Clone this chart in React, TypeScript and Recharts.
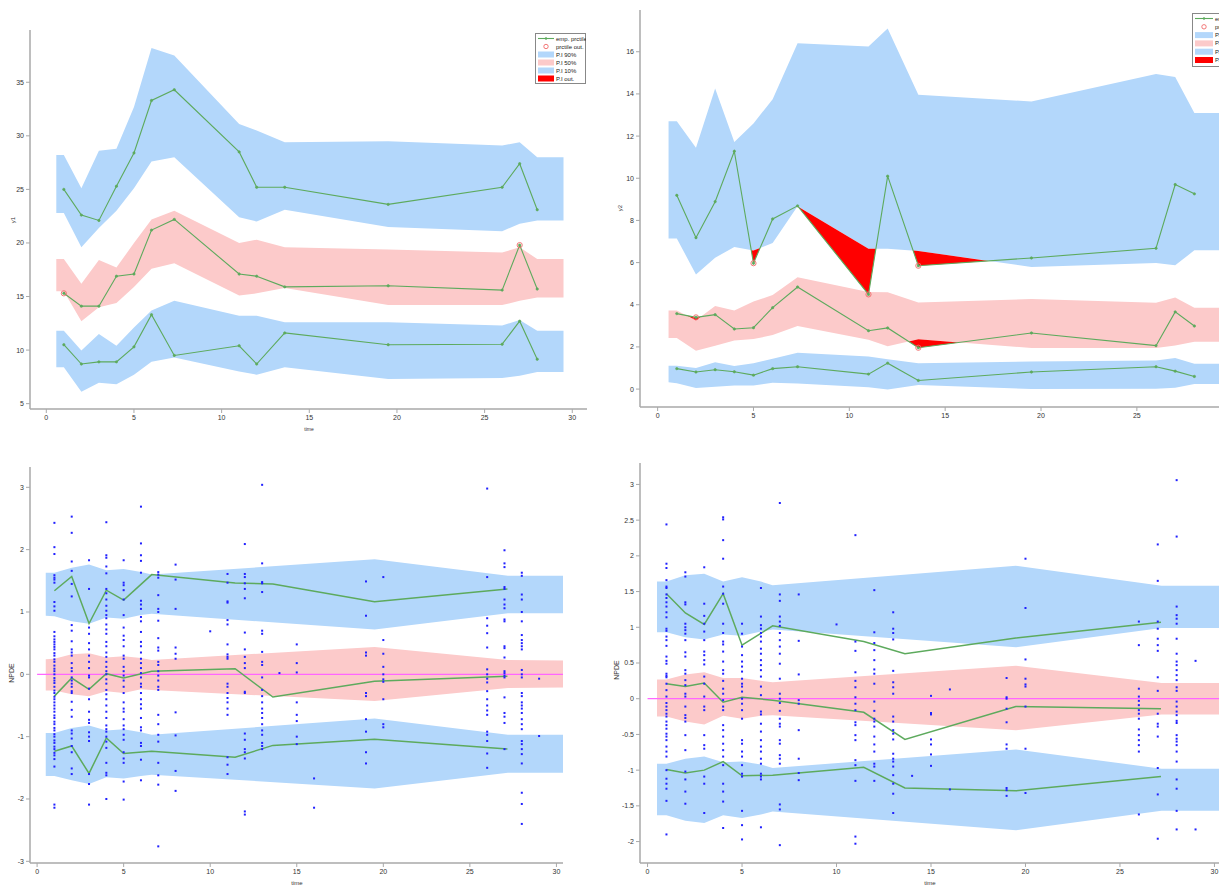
import React from 'react';
import { ComposedChart, Area, Line, Scatter, XAxis, YAxis } from 'recharts';

const GREEN = '#5daa5d';
const BLUE_BAND = '#b3d7fb';
const PINK_BAND = '#fccaca';
const RED = '#ff0000';
const DOT_BLUE = '#2020ff';
const MAGENTA = '#ff66ff';
const AXIS = '#a9a9a9';
const FONT = 'Liberation Sans, Arial, sans-serif';

// ---------------- top-left (y1) ----------------
const tlBandT = [0.57, 1, 2, 3, 4, 5, 6, 7.3, 11, 12, 13.6, 19.5, 26, 27, 28, 29.5];
const tlHiTop = [28.2, 28.2, 25.1, 28.6, 28.8, 32.7, 38.2, 37.5, 31.1, 30.5, 29.4, 29.5, 29.1, 29.4, 28.0, 28.0];
const tlHiBot = [22.8, 22.8, 19.6, 21.4, 23.0, 25.1, 27.6, 28.0, 22.4, 22.0, 23.1, 21.5, 21.1, 21.8, 22.1, 22.1];
const tlMidTop = [18.5, 18.5, 16.2, 18.4, 17.7, 20.0, 22.2, 23.0, 20.0, 20.3, 19.6, 19.4, 19.1, 19.6, 18.5, 18.5];
const tlMidBot = [15.5, 15.5, 12.7, 14.0, 14.4, 15.9, 17.6, 18.1, 15.1, 15.3, 15.8, 14.2, 14.2, 14.6, 14.9, 14.9];
const tlLoTop = [11.8, 11.8, 9.97, 11.5, 10.4, 12.1, 13.7, 14.6, 13.2, 13.2, 12.6, 12.6, 12.3, 12.8, 11.8, 11.8];
const tlLoBot = [8.4, 8.4, 6.1, 6.96, 6.8, 7.7, 8.9, 9.3, 8.0, 7.7, 8.4, 7.3, 7.4, 7.6, 7.95, 7.95];
const tlBins = [1, 2, 3, 4, 5, 6, 7.3, 11, 12, 13.6, 19.5, 26, 27, 28];
const tlEmpHi = [25.0, 22.6, 22.1, 25.3, 28.4, 33.3, 34.3, 28.5, 25.2, 25.2, 23.6, 25.2, 27.4, 23.1];
const tlEmpMid = [15.3, 14.1, 14.1, 16.9, 17.1, 21.2, 22.2, 17.1, 16.9, 15.9, 16.0, 15.6, 19.8, 15.7];
const tlEmpLo = [10.5, 8.7, 8.9, 8.9, 10.3, 13.3, 9.5, 10.4, 8.7, 11.6, 10.5, 10.55, 12.7, 9.15];
const tlYTicks = [5, 10, 15, 20, 25, 30, 35];

// ---------------- top-right (y2) ----------------
const trBandT = [0.57, 1, 2, 3, 4, 5, 6, 7.3, 11, 12, 13.6, 19.5, 26, 27, 28, 29.5];
const trHiTop = [12.7, 12.7, 11.45, 14.26, 11.72, 12.6, 13.75, 16.4, 16.25, 17.1, 13.96, 13.64, 14.95, 14.8, 13.1, 13.1];
const trHiBot = [7.14, 7.14, 5.44, 6.23, 6.74, 6.57, 6.93, 8.67, 6.66, 6.66, 6.55, 5.79, 5.98, 5.87, 6.58, 6.58];
const trMidTop = [3.73, 3.73, 3.26, 3.94, 3.73, 4.15, 4.46, 5.3, 4.6, 4.59, 4.11, 4.27, 4.1, 4.34, 3.86, 3.86];
const trMidBot = [2.42, 2.42, 1.82, 2.06, 2.31, 2.37, 2.56, 2.99, 2.34, 2.03, 2.36, 1.95, 1.95, 2.07, 2.25, 2.25];
const trLoTop = [1.11, 1.11, 1.0, 1.27, 1.09, 1.23, 1.44, 1.72, 1.55, 1.42, 1.23, 1.31, 1.36, 1.47, 1.2, 1.2];
const trLoBot = [0.32, 0.28, 0.05, 0.11, 0.17, 0.17, 0.3, 0.27, 0.09, -0.02, 0.19, 0.0, 0.02, 0.06, 0.24, 0.24];
const trBins = [1, 2, 3, 4, 5, 6, 7.3, 11, 12, 13.6, 19.5, 26, 27, 28];
const trEmpHi = [9.19, 7.18, 8.89, 11.28, 5.97, 8.07, 8.69, 4.49, 10.1, 5.85, 6.22, 6.68, 9.7, 9.26];
const trEmpMid = [3.58, 3.4, 3.53, 2.85, 2.91, 3.86, 4.84, 2.77, 2.9, 1.96, 2.66, 2.06, 3.66, 2.99];
const trEmpLo = [0.97, 0.81, 0.92, 0.82, 0.66, 0.97, 1.06, 0.71, 1.23, 0.41, 0.81, 1.06, 0.85, 0.6];
const trYTicks = [0, 2, 4, 6, 8, 10, 12, 14, 16];

const topXTicks = [0, 5, 10, 15, 20, 25, 30];

// ---------------- NPDE panels ----------------
const npBandT = [0.5, 1, 2, 3, 4, 5, 6, 6.62, 19.5, 27.2, 30.4];
const npBins = [1, 2, 3, 4, 5, 6.62, 11.44, 13.62, 19.49, 27.17];

const blHiTop = [1.63, 1.63, 1.71, 1.76, 1.67, 1.69, 1.64, 1.60, 1.845, 1.58, 1.58];
const blHiBot = [0.94, 0.93, 0.85, 0.81, 0.91, 0.89, 0.95, 0.97, 0.72, 0.98, 0.98];
const blMidTop = [0.24, 0.25, 0.32, 0.34, 0.27, 0.29, 0.26, 0.23, 0.44, 0.23, 0.22];
const blMidBot = [-0.26, -0.26, -0.32, -0.35, -0.27, -0.30, -0.24, -0.25, -0.43, -0.22, -0.21];
const blLoTop = [-0.94, -0.94, -0.86, -0.82, -0.90, -0.88, -0.93, -0.97, -0.71, -0.97, -0.97];
const blLoBot = [-1.63, -1.63, -1.70, -1.76, -1.65, -1.67, -1.63, -1.61, -1.83, -1.58, -1.58];
const blEmpHi = [1.34, 1.57, 0.815, 1.35, 1.19, 1.60, 1.465, 1.45, 1.164, 1.37];
const blEmpMid = [-0.35, -0.06, -0.24, 0.01, -0.06, 0.05, 0.09, -0.365, -0.11, -0.03];
const blEmpLo = [-1.235, -1.15, -1.59, -1.02, -1.27, -1.235, -1.33, -1.14, -1.04, -1.20];

const brHiTop = [1.64, 1.64, 1.73, 1.75, 1.64, 1.70, 1.64, 1.59, 1.86, 1.58, 1.58];
const brHiBot = [0.93, 0.93, 0.86, 0.83, 0.90, 0.88, 0.94, 0.97, 0.72, 0.99, 0.99];
const brMidTop = [0.27, 0.27, 0.34, 0.37, 0.29, 0.29, 0.25, 0.23, 0.46, 0.22, 0.22];
const brMidBot = [-0.25, -0.25, -0.32, -0.36, -0.24, -0.28, -0.24, -0.23, -0.44, -0.22, -0.22];
const brLoTop = [-0.91, -0.91, -0.84, -0.81, -0.89, -0.88, -0.92, -0.97, -0.71, -0.98, -0.98];
const brLoBot = [-1.63, -1.63, -1.71, -1.74, -1.63, -1.67, -1.62, -1.58, -1.84, -1.57, -1.57];
const brEmpHi = [1.47, 1.20, 1.04, 1.47, 0.75, 1.02, 0.80, 0.63, 0.85, 1.07];
const brEmpMid = [0.21, 0.17, 0.22, -0.05, 0.02, -0.02, -0.19, -0.57, -0.11, -0.14];
const brEmpLo = [-0.99, -1.04, -1.0, -0.88, -1.08, -1.07, -0.96, -1.25, -1.29, -1.09];

const npXTicks = [0, 5, 10, 15, 20, 25, 30];
const blYTicks = [-3, -2, -1, 0, 1, 2, 3];
const brYTicks = [-2, -1.5, -1, -0.5, 0, 0.5, 1, 1.5, 2, 2.5, 3];
const zeroLineT = [0, 30.4];

const scatT = [1, 2, 3, 4, 5, 6, 7, 8, 10, 11, 12, 13, 14, 15, 16, 19, 20, 26, 27, 28, 29];
const blScatV = [
  [2.43, 2.04, 1.93, 1.59, 1.55, 1.52, 1.47, 1.16, 1.09, 1.02, 0.68, 0.61, 0.56, 0.52, 0.48, 0.44, 0.4, 0.34, 0.3, 0.24, 0.2, 0.14, 0.09, 0.05, 0.0, -0.06, -0.1, -0.14, -0.2, -0.26, -0.3, -0.36, -0.4, -0.45, -0.5, -0.55, -0.6, -0.66, -0.7, -0.76, -0.8, -0.86, -0.9, -0.96, -1.0, -1.06, -1.1, -1.16, -1.2, -1.26, -1.3, -1.36, -1.48, -2.09, -2.14],
  [2.53, 2.27, 1.81, 1.66, 1.45, 1.25, 0.79, 0.7, 0.53, 0.4, 0.35, 0.3, 0.18, 0.1, 0.05, -0.05, -0.1, -0.15, -0.2, -0.27, -0.3, -0.44, -0.57, -0.68, -0.9, -0.95, -1.03, -1.15, -1.25, -1.51, -1.6],
  [1.83, 1.37, 0.75, 0.65, 0.5, 0.4, 0.3, 0.2, 0.1, -0.02, -0.05, -0.23, -0.4, -0.6, -0.73, -0.78, -0.93, -1.0, -1.07, -1.6, -1.76, -2.09],
  [2.44, 1.91, 1.87, 1.73, 1.62, 1.37, 1.3, 1.2, 1.1, 1.02, 0.95, 0.9, 0.8, 0.72, 0.65, 0.52, 0.45, 0.35, 0.28, 0.2, 0.12, 0.05, 0.0, -0.08, -0.15, -0.25, -0.32, -0.4, -0.5, -0.6, -0.7, -0.82, -0.88, -0.92, -1.0, -1.08, -1.18, -1.42, -1.58, -1.62, -2.0],
  [1.83, 1.47, 1.43, 1.35, 1.2, 0.95, 0.75, 0.62, 0.55, 0.45, 0.3, 0.25, 0.12, 0.05, -0.02, -0.1, -0.2, -0.3, -0.45, -0.55, -0.6, -0.72, -0.82, -0.88, -0.97, -1.05, -1.25, -1.35, -1.42, -1.72, -2.01],
  [2.69, 2.1, 1.91, 1.82, 1.63, 1.18, 1.12, 1.05, 0.92, 0.85, 0.68, 0.52, 0.45, 0.35, 0.25, 0.18, 0.1, 0.02, -0.05, -0.15, -0.2, -0.3, -0.4, -0.48, -0.55, -0.7, -0.85, -0.9, -1.1, -1.15, -1.37, -1.7],
  [1.64, 1.6, 1.55, 1.27, 1.05, 1.0, 0.86, 0.58, 0.43, 0.38, 0.2, 0.15, 0.05, -0.02, -0.1, -0.2, -0.25, -0.65, -0.8, -0.97, -1.08, -1.42, -1.62, -1.77, -2.76],
  [1.76, 1.52, 1.05, 0.43, 0.33, 0.25, -0.61, -0.98, -1.55, -1.87],
  [0.69],
  [1.61, 1.47, 1.17, 1.15, 0.87, 0.8, 0.48, 0.32, 0.28, 0.25, -0.15, -0.2, -0.3, -0.38, -0.45, -0.55, -0.65, -1.33, -1.45, -1.6],
  [2.09, 1.61, 1.56, 1.46, 1.37, 1.22, 0.67, 0.4, 0.28, 0.18, 0.1, -0.28, -0.3, -0.95, -1.05, -1.2, -1.25, -1.35, -2.2, -2.25],
  [3.04, 1.78, 1.48, 1.46, 1.32, 0.7, 0.65, 0.36, 0.2, 0.15, -0.05, -0.25, -0.35, -0.45, -0.55, -0.62, -0.7, -0.8, -0.9, -0.97, -1.1, -1.15, -1.2],
  [0.02],
  [0.48, 0.18, 0.03, -0.45, -0.65, -0.75, -1.0, -1.12],
  [-1.67, -2.14],
  [1.49, 0.94, 0.35, 0.3, -0.3, -0.35, -0.72, -0.92, -1.25, -1.43],
  [1.56, 0.55, 0.33, 0.12, 0.0, -0.08, -0.12, -0.4, -0.8, -0.85],
  [2.98, 1.56, 0.9, 0.78, 0.66, 0.43, 0.08, 0.0, -0.07, -0.13, -0.27, -0.4, -0.5, -0.58, -0.65, -0.92, -0.97, -1.07, -1.27, -1.5],
  [1.99, 1.78, 1.72, 1.4, 1.37, 1.2, 1.12, 1.06, 0.88, 0.85, 0.45, 0.42, 0.27, 0.05, 0.02, -0.02, -0.05, -0.37, -0.62, -0.68, -0.78, -1.2],
  [1.63, 1.58, 1.28, 1.2, 1.0, 0.85, 0.63, 0.55, 0.5, 0.45, 0.4, 0.07, 0.0, -0.05, -0.3, -0.35, -0.45, -0.5, -0.55, -0.62, -0.72, -0.8, -0.88, -1.07, -1.12, -1.2, -1.28, -1.43, -1.9, -2.08, -2.4],
  [-0.07, -0.99],
];
const brScatV = [
  [2.44, 1.89, 1.83, 1.66, 1.57, 1.55, 1.46, 1.41, 1.35, 1.29, 1.21, 1.14, 0.98, 0.95, 0.87, 0.82, 0.74, 0.59, 0.53, 0.49, 0.35, 0.32, 0.3, 0.21, 0.12, 0.03, -0.06, -0.11, -0.16, -0.21, -0.25, -0.32, -0.37, -0.42, -0.49, -0.53, -0.58, -0.67, -0.74, -0.81, -1.0, -1.12, -1.19, -1.26, -1.43, -1.9],
  [1.77, 1.71, 1.35, 1.32, 1.05, 1.0, 0.96, 0.91, 0.82, 0.65, 0.59, 0.4, 0.35, 0.26, 0.19, 0.07, 0.03, -0.11, -0.23, -0.27, -0.32, -0.51, -0.72, -1.02, -1.13, -1.3, -1.47],
  [1.84, 1.33, 1.16, 1.05, 0.94, 0.82, 0.66, 0.61, 0.54, 0.48, 0.31, 0.21, 0.03, -0.11, -0.16, -0.51, -0.65, -0.7, -1.09, -1.19, -1.6],
  [2.54, 2.51, 2.22, 1.96, 1.57, 1.47, 1.33, 1.05, 0.92, 0.8, 0.76, 0.66, 0.52, 0.4, 0.35, 0.25, 0.14, 0.07, -0.02, -0.11, -0.16, -0.37, -0.44, -0.53, -0.63, -0.72, -0.81, -0.93, -1.19, -1.3, -1.44, -1.81],
  [1.05, 0.91, 0.73, 0.61, 0.52, 0.45, 0.38, 0.28, 0.21, 0.17, 0.1, 0.0, -0.07, -0.16, -0.28, -0.58, -0.63, -0.74, -0.81, -0.93, -1.05, -1.09, -1.57, -1.77, -1.97],
  [1.55, 1.15, 1.03, 0.98, 0.92, 0.87, 0.8, 0.7, 0.63, 0.54, 0.47, 0.4, 0.31, 0.17, 0.05, -0.18, -0.22, -0.35, -0.46, -0.58, -0.67, -0.74, -0.84, -0.91, -1.05, -1.09, -1.13, -1.8],
  [2.74, 1.46, 1.37, 1.15, 1.08, 1.02, 0.92, 0.82, 0.73, 0.63, 0.49, 0.28, 0.07, 0.0, -0.06, -0.17, -0.28, -0.35, -0.39, -0.58, -0.63, -0.79, -0.84, -0.91, -1.48, -1.55, -2.05],
  [1.46, 0.81, 0.34, -0.02, -0.07, -0.44, -0.84, -1.04, -1.14],
  [1.04],
  [2.29, 0.8, 0.67, 0.37, 0.25, 0.16, 0.02, -0.07, -0.16, -0.33, -0.37, -0.51, -0.58, -0.86, -0.93, -1.15, -1.93, -2.03],
  [1.52, 0.93, 0.78, 0.68, 0.54, 0.41, 0.35, 0.21, -0.04, -0.17, -0.28, -0.32, -0.39, -0.53, -0.64, -0.74, -0.91, -0.95, -1.15],
  [1.21, 0.98, 0.92, 0.83, 0.39, 0.23, 0.16, 0.07, -0.25, -0.32, -0.44, -0.49, -0.57, -0.77, -0.84, -0.88, -0.95, -1.07, -1.19, -1.33, -1.6],
  [-1.08],
  [0.04, -0.2, -0.22, -0.57, -0.64, -0.78, -0.94],
  [0.13, -1.27],
  [0.29, 0.02, 0.0, -0.14, -0.33, -0.64, -0.7, -1.25, -1.28, -1.36],
  [1.96, 1.27, 0.55, 0.28, 0.2, 0.17, -0.11, -0.7, -1.32],
  [1.08, 0.75, 0.14, 0.03, -0.03, -0.09, -0.16, -0.21, -0.28, -0.43, -0.51, -0.58, -0.65, -0.74, -1.62],
  [2.16, 1.65, 1.08, 0.98, 0.84, 0.75, 0.67, 0.3, 0.11, -0.21, -0.35, -0.39, -0.53, -0.97, -1.34, -1.96],
  [3.06, 2.27, 1.29, 1.17, 1.12, 1.05, 0.84, 0.63, 0.52, 0.47, 0.4, 0.33, 0.26, 0.16, 0.11, -0.04, -0.11, -0.18, -0.23, -0.31, -0.34, -0.51, -0.56, -0.6, -0.65, -0.74, -0.88, -1.13, -1.26, -1.57, -1.83],
  [0.53, -1.83],
];

// ---------------- helpers ----------------
type Pt = { t: number; v: number };
type RPt = { t: number; r: [number, number] };

const interp = (ts: number[], vs: number[], t: number) => {
  for (let i = 0; i < ts.length - 1; i++) {
    if (t >= ts[i] && t <= ts[i + 1]) {
      const f = (t - ts[i]) / (ts[i + 1] - ts[i]);
      return vs[i] + f * (vs[i + 1] - vs[i]);
    }
  }
  return vs[vs.length - 1];
};
const rangeData = (t: number[], lo: number[], hi: number[]): RPt[] =>
  t.map((tt, i) => ({ t: tt, r: [lo[i], hi[i]] }));
const lineData = (t: number[], v: number[]): Pt[] => t.map((tt, i) => ({ t: tt, v: v[i] }));

// region where the empirical line leaves the band (above top or below bottom)
function outside(bins: number[], emp: number[], bandT: number[], lo: number[], hi: number[]) {
  const above: RPt[] = [];
  const below: RPt[] = [];
  for (let i = 0; i < bins.length; i++) {
    const t = bins[i];
    const L = emp[i];
    const H = interp(bandT, hi, t);
    const B = interp(bandT, lo, t);
    above.push({ t, r: [H, Math.max(L, H)] });
    below.push({ t, r: [Math.min(L, B), B] });
    if (i < bins.length - 1) {
      const t1 = bins[i + 1];
      const L1 = emp[i + 1];
      const H1 = interp(bandT, hi, t1);
      const B1 = interp(bandT, lo, t1);
      const d0 = L - H, d1 = L1 - H1;
      if (d0 * d1 < 0) {
        const f = d0 / (d0 - d1);
        const v = H + f * (H1 - H);
        above.push({ t: t + f * (t1 - t), r: [v, v] });
      }
      const e0 = B - L, e1 = B1 - L1;
      if (e0 * e1 < 0) {
        const f = e0 / (e0 - e1);
        const v = B + f * (B1 - B);
        below.push({ t: t + f * (t1 - t), r: [v, v] });
      }
    }
  }
  return [above, below];
}
function outPoints(bins: number[], emp: number[], bandT: number[], lo: number[], hi: number[]): Pt[] {
  const res: Pt[] = [];
  bins.forEach((t, i) => {
    const H = interp(bandT, hi, t);
    const B = interp(bandT, lo, t);
    if (emp[i] > H || emp[i] < B) res.push({ t, v: emp[i] });
  });
  return res;
}

const TICK = { fontSize: 7, fill: '#333', fontFamily: FONT };

const SmallDot = (p: any) =>
  p.cx == null ? null : <rect x={p.cx - 1} y={p.cy - 1} width={2} height={2} fill={DOT_BLUE} />;
const OutCircle = (p: any) =>
  p.cx == null ? null : <circle cx={p.cx} cy={p.cy} r={2.6} fill="none" stroke="#f06a6a" strokeWidth={0.9} />;

type BandSpec = { lo: number[]; hi: number[]; color: string };
type EmpSpec = { v: number[]; band: BandSpec };

interface PanelProps {
  width: number;
  height: number;
  margin: { top: number; right: number; bottom: number; left: number };
  yWidth: number;
  xHeight: number;
  xDomain: [number, number];
  yDomain: [number, number];
  xTicks: number[];
  yTicks: number[];
  bandT: number[];
  bands: BandSpec[];
  bins: number[];
  emps: EmpSpec[];
  topStyle: boolean;
  scatter?: number[][];
}

function Panel(props: PanelProps) {
  const { bandT, bands, bins, emps, topStyle, scatter } = props;
  const reds: RPt[][] = [];
  const outs: Pt[] = [];
  if (topStyle) {
    emps.forEach((e) => {
      const [a, b] = outside(bins, e.v, bandT, e.band.lo, e.band.hi);
      reds.push(a, b);
      outs.push(...outPoints(bins, e.v, bandT, e.band.lo, e.band.hi));
    });
  }
  const scatterPts: Pt[] = [];
  if (scatter) {
    scatT.forEach((t, i) => scatter[i].forEach((v) => scatterPts.push({ t, v })));
  }
  return (
    <ComposedChart width={props.width} height={props.height} margin={props.margin}>
      <XAxis
        type="number"
        dataKey="t"
        domain={props.xDomain}
        ticks={props.xTicks}
        allowDataOverflow
        height={props.xHeight}
        axisLine={{ stroke: AXIS, strokeWidth: 1.5 }}
        tickLine={{ stroke: AXIS }}
        tickSize={4}
        tick={TICK}
        interval={0}
      />
      <YAxis
        type="number"
        domain={props.yDomain}
        ticks={props.yTicks}
        allowDataOverflow
        width={props.yWidth}
        axisLine={{ stroke: AXIS, strokeWidth: 1.5 }}
        tickLine={{ stroke: AXIS }}
        tickSize={4}
        tick={TICK}
        interval={0}
      />
      {bands.map((b, i) => (
        <Area
          key={'band' + i}
          data={rangeData(bandT, b.lo, b.hi)}
          dataKey="r"
          type="linear"
          stroke="none"
          fill={b.color}
          fillOpacity={1}
          dot={false}
          activeDot={false}
          isAnimationActive={false}
        />
      ))}
      {reds.map((r, i) => (
        <Area
          key={'red' + i}
          data={r}
          dataKey="r"
          type="linear"
          stroke="none"
          fill={RED}
          fillOpacity={1}
          dot={false}
          activeDot={false}
          isAnimationActive={false}
        />
      ))}
      {scatter && (
        <Line
          data={lineData(zeroLineT, [0, 0])}
          dataKey="v"
          type="linear"
          stroke={MAGENTA}
          strokeWidth={1.3}
          dot={false}
          activeDot={false}
          isAnimationActive={false}
        />
      )}
      {scatter && <Scatter data={scatterPts} dataKey="v" shape={SmallDot} isAnimationActive={false} />}
      {emps.map((e, i) => (
        <Line
          key={'emp' + i}
          data={lineData(bins, e.v)}
          dataKey="v"
          type="linear"
          stroke={GREEN}
          strokeWidth={topStyle ? 1.1 : 1.5}
          dot={topStyle ? { r: 1.2, fill: GREEN, stroke: GREEN, strokeWidth: 0.6 } : false}
          activeDot={false}
          isAnimationActive={false}
        />
      ))}
      {outs.length > 0 && <Scatter data={outs} dataKey="v" shape={OutCircle} isAnimationActive={false} />}
    </ComposedChart>
  );
}

const legendRows = ['emp. prctile', 'prctile out.', 'P.I 90%', 'P.I 50%', 'P.I 10%', 'P.I out.'];

function LegendBox({ left, top, width, height, rowH, sw }: { left: number; top: number; width: number; height: number; rowH: number; sw: number }) {
  return (
    <svg style={{ position: 'absolute', left, top }} width={width} height={height}>
      <rect x={0.5} y={0.5} width={width - 1} height={height - 1} fill="#fff" stroke="#888" strokeWidth={1} />
      {legendRows.map((label, i) => {
        const cy = 5.5 + i * rowH;
        let mark: React.ReactNode;
        if (i === 0)
          mark = (
            <g>
              <line x1={3} x2={3 + sw} y1={cy} y2={cy} stroke={GREEN} strokeWidth={1.1} />
              <circle cx={3 + sw / 2} cy={cy} r={1.2} fill={GREEN} />
            </g>
          );
        else if (i === 1) mark = <circle cx={3 + sw / 2} cy={cy} r={2.2} fill="none" stroke="#f06a6a" strokeWidth={0.9} />;
        else {
          const c = i === 3 ? PINK_BAND : i === 5 ? RED : BLUE_BAND;
          mark = <rect x={3} y={cy - 3} width={sw} height={6} fill={c} />;
        }
        return (
          <g key={label}>
            {mark}
            <text x={sw + 5} y={cy + 2} fontSize={6} fontFamily={FONT} fill="#222">
              {label}
            </text>
          </g>
        );
      })}
    </svg>
  );
}

const Label = ({ x, y, text, rotate, size }: { x: number; y: number; text: string; rotate?: boolean; size: number }) => (
  <div
    style={{
      position: 'absolute',
      left: x,
      top: y,
      transform: `translate(-50%, -50%)${rotate ? ' rotate(-90deg)' : ''}`,
      fontSize: size,
      fontFamily: FONT,
      color: '#333',
      whiteSpace: 'nowrap',
      lineHeight: 1,
    }}
  >
    {text}
  </div>
);

export default function App() {
  const tlBands = {
    hi: { lo: tlHiBot, hi: tlHiTop, color: BLUE_BAND },
    mid: { lo: tlMidBot, hi: tlMidTop, color: PINK_BAND },
    lo: { lo: tlLoBot, hi: tlLoTop, color: BLUE_BAND },
  };
  const trBands = {
    hi: { lo: trHiBot, hi: trHiTop, color: BLUE_BAND },
    mid: { lo: trMidBot, hi: trMidTop, color: PINK_BAND },
    lo: { lo: trLoBot, hi: trLoTop, color: BLUE_BAND },
  };
  const blBands = {
    hi: { lo: blHiBot, hi: blHiTop, color: BLUE_BAND },
    mid: { lo: blMidBot, hi: blMidTop, color: PINK_BAND },
    lo: { lo: blLoBot, hi: blLoTop, color: BLUE_BAND },
  };
  const brBands = {
    hi: { lo: brHiBot, hi: brHiTop, color: BLUE_BAND },
    mid: { lo: brMidBot, hi: brMidTop, color: PINK_BAND },
    lo: { lo: brLoBot, hi: brLoTop, color: BLUE_BAND },
  };
  return (
    <div style={{ position: 'absolute', left: 0, top: 0, width: 1219, height: 887, overflow: 'hidden', background: '#fff' }}>
      <div style={{ position: 'absolute', left: 0, top: 0 }}>
        <Panel
          width={600}
          height={440}
          margin={{ top: 30, right: 13, bottom: 0, left: 0 }}
          yWidth={30}
          xHeight={31}
          xDomain={[-0.93, 30.84]}
          yDomain={[4.5, 39.88]}
          xTicks={topXTicks}
          yTicks={tlYTicks}
          bandT={tlBandT}
          bands={[tlBands.hi, tlBands.mid, tlBands.lo]}
          bins={tlBins}
          emps={[
            { v: tlEmpHi, band: tlBands.hi },
            { v: tlEmpMid, band: tlBands.mid },
            { v: tlEmpLo, band: tlBands.lo },
          ]}
          topStyle
        />
      </div>
      <div style={{ position: 'absolute', left: 600, top: 0 }}>
        <Panel
          width={660}
          height={440}
          margin={{ top: 10, right: 11, bottom: 0, left: 0 }}
          yWidth={40}
          xHeight={33}
          xDomain={[-0.92, 30.85]}
          yDomain={[-0.85, 17.98]}
          xTicks={topXTicks}
          yTicks={trYTicks}
          bandT={trBandT}
          bands={[trBands.hi, trBands.mid, trBands.lo]}
          bins={trBins}
          emps={[
            { v: trEmpHi, band: trBands.hi },
            { v: trEmpMid, band: trBands.mid },
            { v: trEmpLo, band: trBands.lo },
          ]}
          topStyle
        />
      </div>
      <div style={{ position: 'absolute', left: 0, top: 440 }}>
        <Panel
          width={600}
          height={447}
          margin={{ top: 27, right: 37, bottom: 0, left: 0 }}
          yWidth={30}
          xHeight={24}
          xDomain={[-0.41, 30.38]}
          yDomain={[-3.027, 3.326]}
          xTicks={npXTicks}
          yTicks={blYTicks}
          bandT={npBandT}
          bands={[blBands.hi, blBands.mid, blBands.lo]}
          bins={npBins}
          emps={[
            { v: blEmpHi, band: blBands.hi },
            { v: blEmpMid, band: blBands.mid },
            { v: blEmpLo, band: blBands.lo },
          ]}
          topStyle={false}
          scatter={blScatV}
        />
      </div>
      <div style={{ position: 'absolute', left: 600, top: 440 }}>
        <Panel
          width={660}
          height={447}
          margin={{ top: 23, right: 38, bottom: 0, left: 0 }}
          yWidth={40}
          xHeight={24}
          xDomain={[-0.4, 30.4]}
          yDomain={[-2.3, 3.3]}
          xTicks={npXTicks}
          yTicks={brYTicks}
          bandT={npBandT}
          bands={[brBands.hi, brBands.mid, brBands.lo]}
          bins={npBins}
          emps={[
            { v: brEmpHi, band: brBands.hi },
            { v: brEmpMid, band: brBands.mid },
            { v: brEmpLo, band: brBands.lo },
          ]}
          topStyle={false}
          scatter={brScatV}
        />
      </div>
      <LegendBox left={535} top={33} width={51} height={51} rowH={8} sw={16} />
      <LegendBox left={1192} top={13} width={62} height={54} rowH={8.3} sw={18} />
      <Label x={13} y={220} text="y1" rotate size={6} />
      <Label x={620} y={208} text="y2" rotate size={6} />
      <Label x={309} y={429} text="time" size={5} />
      <Label x={11} y={673} text="NPDE" rotate size={7} />
      <Label x={616} y={670} text="NPDE" rotate size={7} />
      <Label x={297} y={883} text="time" size={6} />
      <Label x={930} y={883} text="time" size={6} />
    </div>
  );
}
